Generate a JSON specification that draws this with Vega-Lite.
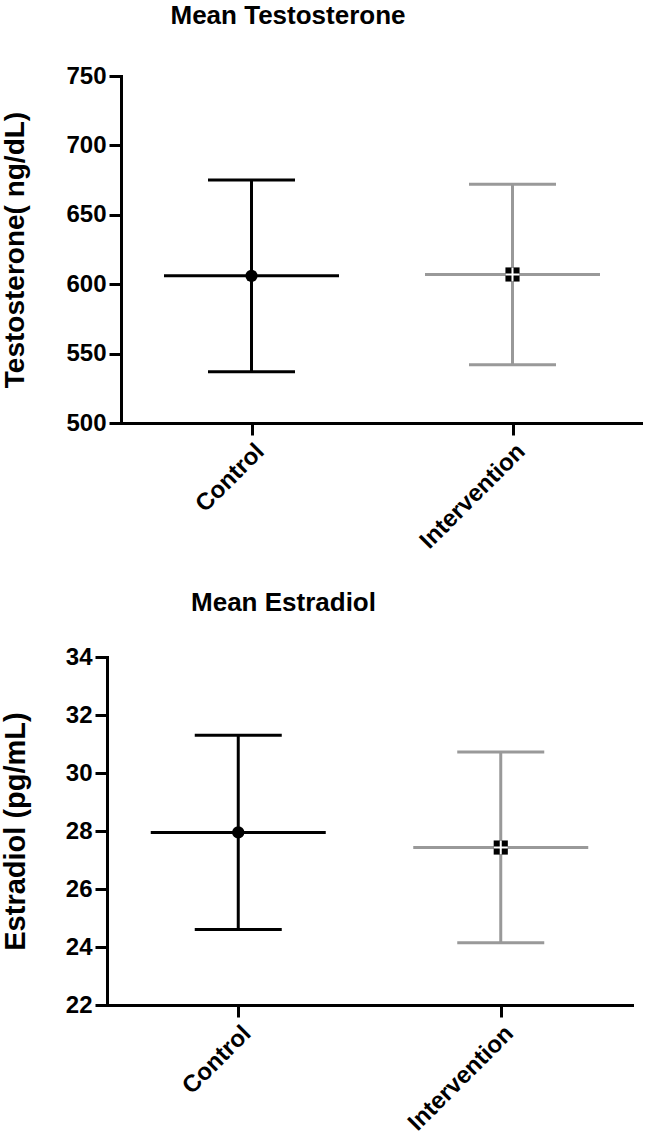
{
  "$schema": "https://vega.github.io/schema/vega-lite/v6.json",
  "background": "white",
  "padding": {"left": 0, "top": 3, "right": 0, "bottom": 0},
  "spacing": 36,
  "config": {
    "view": {"stroke": null},
    "font": "Liberation Sans",
    "axis": {
      "domainColor": "black", "domainWidth": 3, "domainCap": "square",
      "tickColor": "black", "tickWidth": 3, "tickSize": 12,
      "grid": false,
      "labelFont": "Liberation Sans", "labelFontWeight": "bold", "labelFontSize": 24, "labelColor": "black",
      "titleFont": "Liberation Sans", "titleFontWeight": "bold", "titleColor": "black"
    },
    "title": {"font": "Liberation Sans", "fontWeight": "bold", "color": "black", "fontSize": 26}
  },
  "vconcat": [
    {"spacing": 0, "hconcat": [
    {"width": 1, "height": 1, "data": {"values": [{"s": 0}]}, "mark": {"type": "point", "opacity": 0, "size": 0}, "encoding": {}},
    {
      "title": {"text": "Mean Testosterone", "anchor": "middle", "dx": -94, "offset": 35},
      "width": 522,
      "height": 347,
      "data": {"values": [
        {"group": "Control", "mean": 606, "lower": 537, "upper": 675},
        {"group": "Intervention", "mean": 607, "lower": 542, "upper": 672}
      ]},
      "encoding": {
        "x": {"field": "group", "type": "nominal", "sort": null,
              "scale": {"type": "point", "padding": 0.5},
              "axis": {"title": null, "labelAngle": -45, "labelPadding": 4}},
        "color": {"field": "group", "type": "nominal", "legend": null,
                  "scale": {"domain": ["Control", "Intervention"], "range": ["#000000", "#999999"]}}
      },
      "layer": [
        {"mark": {"type": "rule", "strokeWidth": 3, "opacity": 1},
         "encoding": {"y": {"field": "lower", "type": "quantitative",
                            "scale": {"domain": [500, 750], "nice": false, "zero": false},
                            "axis": {"values": [500, 550, 600, 650, 700, 750], "title": "Testosterone( ng/dL)", "titleFontSize": 28, "titlePadding": 36, "labelPadding": 3}},
                      "y2": {"field": "upper"}}},
        {"mark": {"type": "tick", "size": 87, "thickness": 3, "opacity": 1},
         "encoding": {"y": {"field": "lower", "type": "quantitative"}}},
        {"mark": {"type": "tick", "size": 87, "thickness": 3, "opacity": 1},
         "encoding": {"y": {"field": "upper", "type": "quantitative"}}},
        {"mark": {"type": "tick", "size": 175, "thickness": 3, "opacity": 1},
         "encoding": {"y": {"field": "mean", "type": "quantitative"}}},
        {"mark": {"type": "point", "filled": true, "opacity": 1, "color": "black"},
         "encoding": {"y": {"field": "mean", "type": "quantitative"},
                      "color": {"value": "black"},
                      "shape": {"field": "group", "type": "nominal", "legend": null,
                                "scale": {"domain": ["Control", "Intervention"], "range": ["circle", "square"]}},
                      "size": {"field": "group", "type": "nominal", "legend": null,
                               "scale": {"domain": ["Control", "Intervention"], "range": [150, 200]}}}},
        {"transform": [{"filter": "datum.group === 'Intervention'"}],
         "mark": {"type": "point", "shape": "M-1,0L1,0M0,-1L0,1", "size": 200, "stroke": "white", "strokeWidth": 2, "filled": false, "opacity": 1},
         "encoding": {"y": {"field": "mean", "type": "quantitative"}, "color": {"value": "white"}}}
      ]
    }
    ]},
    {"spacing": 0, "hconcat": [
    {"width": 1, "height": 1, "data": {"values": [{"s": 0}]}, "mark": {"type": "point", "opacity": 0, "size": 0}, "encoding": {}},
    {
      "title": {"text": "Mean Estradiol", "anchor": "middle", "dx": -86, "offset": 29},
      "width": 525,
      "height": 348,
      "data": {"values": [
        {"group": "Control", "mean": 27.95, "lower": 24.6, "upper": 31.3},
        {"group": "Intervention", "mean": 27.43, "lower": 24.15, "upper": 30.72}
      ]},
      "encoding": {
        "x": {"field": "group", "type": "nominal", "sort": null,
              "scale": {"type": "point", "padding": 0.5},
              "axis": {"title": null, "labelAngle": -45, "labelPadding": 4}},
        "color": {"field": "group", "type": "nominal", "legend": null,
                  "scale": {"domain": ["Control", "Intervention"], "range": ["#000000", "#999999"]}}
      },
      "layer": [
        {"mark": {"type": "rule", "strokeWidth": 3, "opacity": 1},
         "encoding": {"y": {"field": "lower", "type": "quantitative",
                            "scale": {"domain": [22, 34], "nice": false, "zero": false},
                            "axis": {"values": [22, 24, 26, 28, 30, 32, 34], "title": "Estradiol (pg/mL)", "titleFontSize": 29, "titlePadding": 35, "labelPadding": 3}},
                      "y2": {"field": "upper"}}},
        {"mark": {"type": "tick", "size": 87, "thickness": 3, "opacity": 1},
         "encoding": {"y": {"field": "lower", "type": "quantitative"}}},
        {"mark": {"type": "tick", "size": 87, "thickness": 3, "opacity": 1},
         "encoding": {"y": {"field": "upper", "type": "quantitative"}}},
        {"mark": {"type": "tick", "size": 175, "thickness": 3, "opacity": 1},
         "encoding": {"y": {"field": "mean", "type": "quantitative"}}},
        {"mark": {"type": "point", "filled": true, "opacity": 1, "color": "black"},
         "encoding": {"y": {"field": "mean", "type": "quantitative"},
                      "color": {"value": "black"},
                      "shape": {"field": "group", "type": "nominal", "legend": null,
                                "scale": {"domain": ["Control", "Intervention"], "range": ["circle", "square"]}},
                      "size": {"field": "group", "type": "nominal", "legend": null,
                               "scale": {"domain": ["Control", "Intervention"], "range": [150, 200]}}}},
        {"transform": [{"filter": "datum.group === 'Intervention'"}],
         "mark": {"type": "point", "shape": "M-1,0L1,0M0,-1L0,1", "size": 200, "stroke": "white", "strokeWidth": 2, "filled": false, "opacity": 1},
         "encoding": {"y": {"field": "mean", "type": "quantitative"}, "color": {"value": "white"}}}
      ]
    }
    ]}
  ]
}
